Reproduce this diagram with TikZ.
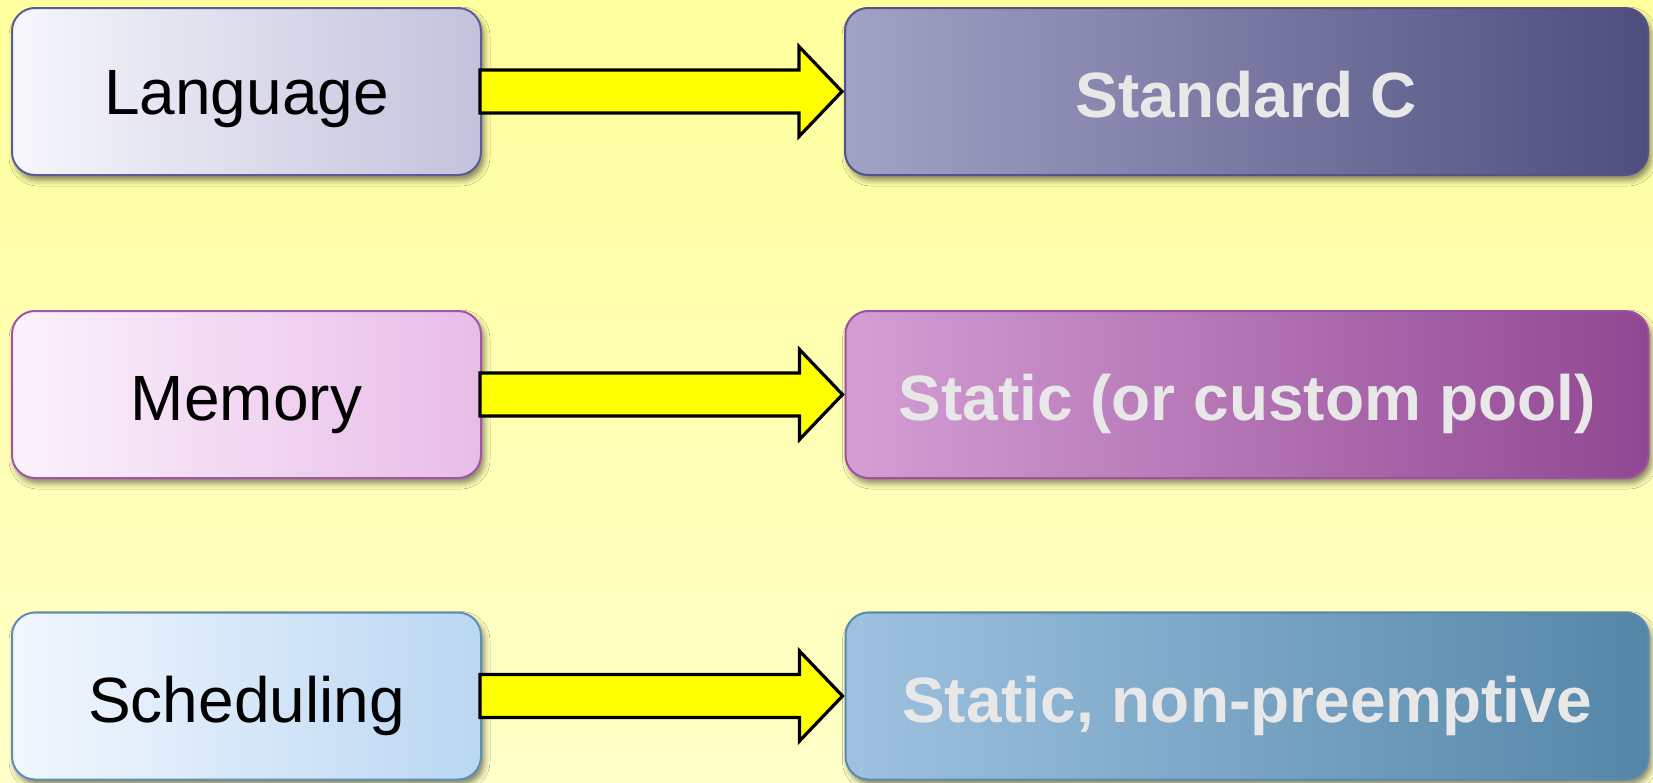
\documentclass[tikz,border=0pt]{standalone}
\usepackage{fontspec}
\setmainfont{Liberation Sans}
\usetikzlibrary{calc,shadows.blur}

% box colours (light source boxes, dark target boxes)
\definecolor{bgtop}{HTML}{FFFF9E}
\definecolor{bgbot}{HTML}{FFFFC8}
\definecolor{arrowfill}{HTML}{FFFF00}
\definecolor{langA}{HTML}{F6F6FB}
\definecolor{langB}{HTML}{C2C2DD}
\definecolor{langD}{HTML}{5B5B9A}
\definecolor{stdA}{HTML}{A2A2C6}
\definecolor{stdB}{HTML}{4E4E7E}
\definecolor{stdD}{HTML}{52528A}
\definecolor{memA}{HTML}{FBF2FB}
\definecolor{memB}{HTML}{E8BCE8}
\definecolor{memD}{HTML}{A055A8}
\definecolor{statA}{HTML}{D49ED4}
\definecolor{statB}{HTML}{904792}
\definecolor{statD}{HTML}{A050A0}
\definecolor{schA}{HTML}{F2F7FE}
\definecolor{schB}{HTML}{BAD7F2}
\definecolor{schD}{HTML}{5E8EB6}
\definecolor{nonA}{HTML}{9EC2E0}
\definecolor{nonB}{HTML}{5486A8}
\definecolor{nonD}{HTML}{5A8AB4}
\definecolor{lighttext}{HTML}{E8E8E8}

\tikzset{
  box/.style={rectangle, rounded corners=11.5pt, line width=1pt,
    minimum height=83.5pt, inner sep=0pt,
    text height=23pt, text depth=0pt,
    blur shadow={shadow xshift=1.5pt, shadow yshift=-2.5pt,
      shadow blur radius=3pt, shadow opacity=50}},
  srcbox/.style={box, minimum width=234.5pt, text=black,
    font=\fontsize{32}{38}\selectfont},
  dstbox/.style={box, minimum width=401.5pt, text=lighttext,
    font=\fontsize{32}{38}\selectfont\bfseries},
  fatarrow/.style={fill=arrowfill, draw=black, line width=1.6pt, line join=miter}
}

% block arrow from the east side of one box to the west side of another
\newcommand\blockarrow[2]{%
  \draw[fatarrow]
    ($(#1.east)+(-2,-21.5)$) -- ($(#2.west)+(-45,-21.5)$)
    -- ($(#2.west)+(-45,-45)$) -- ($(#2.west)+(-2,0)$)
    -- ($(#2.west)+(-45,45)$) -- ($(#2.west)+(-45,21.5)$)
    -- ($(#1.east)+(-2,21.5)$) -- cycle;}

\begin{document}
\begin{tikzpicture}[x=0.5pt, y=-0.5pt]
  % background
  \shade[top color=bgtop, bottom color=bgbot] (0,0) rectangle (1653,782);
  \useasboundingbox (0,0) rectangle (1653,782);

  % row 1
  \node[srcbox, draw=langD, left color=langA, right color=langB]
    (lang) at (246.5,91.5) {Language};
  \node[dstbox, draw=stdD, left color=stdA, right color=stdB]
    (stdc) at (1246.5,91.5) {\raisebox{-1.5pt}{Standard C}};

  % row 2
  \node[srcbox, draw=memD, left color=memA, right color=memB]
    (mem) at (246.5,394.5) {\raisebox{-1.5pt}{Memory}};
  \node[dstbox, draw=statD, left color=statA, right color=statB]
    (stat) at (1247,394.5) {\raisebox{-1.5pt}{Static (or custom pool)}};

  % row 3
  \node[srcbox, draw=schD, left color=schA, right color=schB]
    (sched) at (246.5,696) {\raisebox{-1.5pt}{Scheduling}};
  \node[dstbox, draw=nonD, left color=nonA, right color=nonB]
    (nonpre) at (1247,696) {\raisebox{-1.5pt}{Static, non-preemptive}};

  % arrows
  \blockarrow{lang}{stdc}
  \blockarrow{mem}{stat}
  \blockarrow{sched}{nonpre}
\end{tikzpicture}
\end{document}
